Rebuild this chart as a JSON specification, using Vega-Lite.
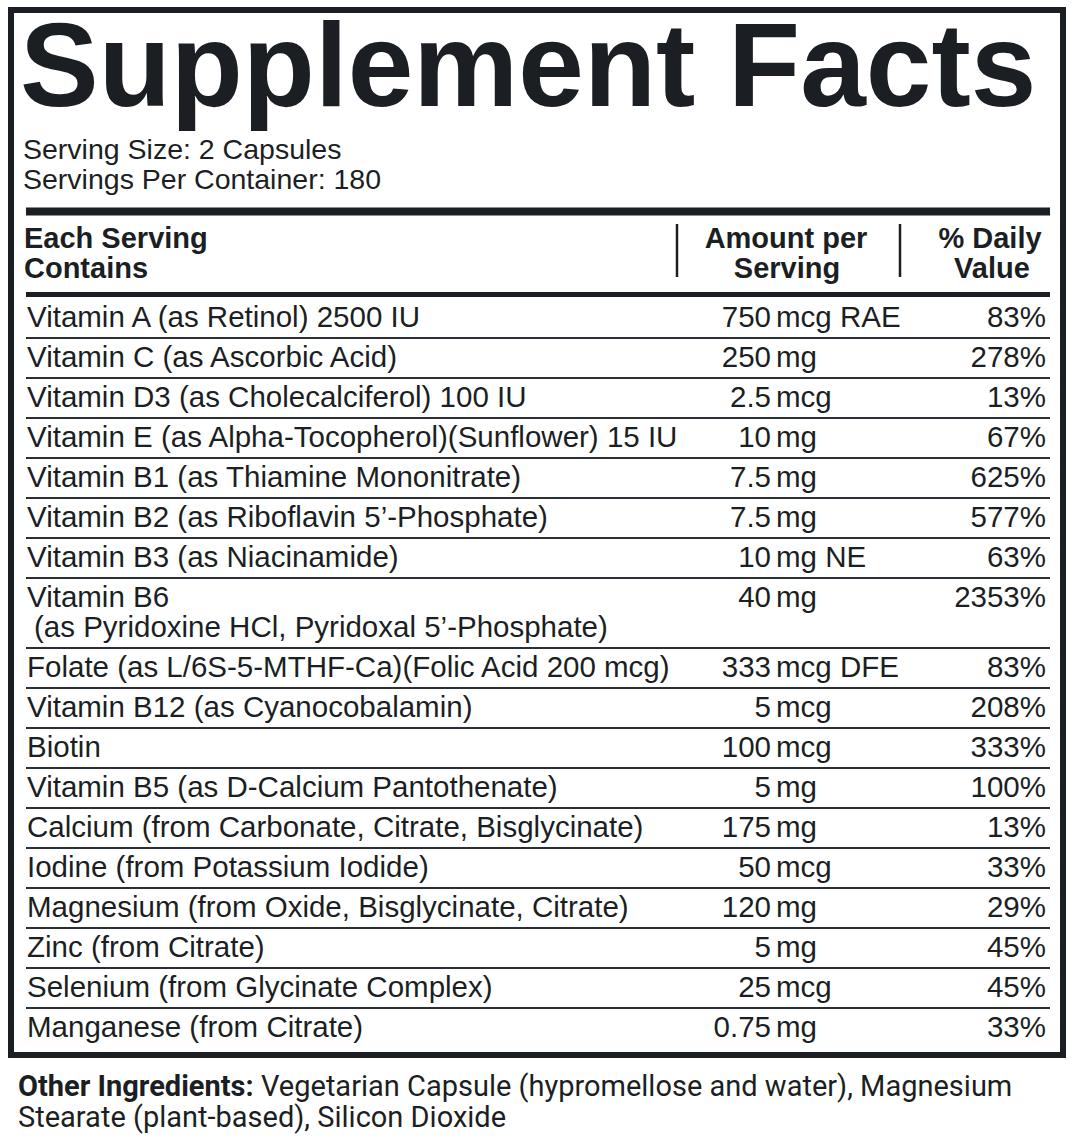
{
  "$schema": "https://vega.github.io/schema/vega-lite/v6.json",
  "width": 1074,
  "height": 1142,
  "autosize": {"type": "fit", "contains": "padding"},
  "padding": 0,
  "background": "white",
  "config": {
    "view": {"stroke": null},
    "text": {"font": "Liberation Sans", "color": "#1b1f24", "fontSize": 29.5}
  },
  "datasets": {
    "facts": [
      {
        "title": "Supplement Facts",
        "serving_size": "Serving Size: 2 Capsules",
        "servings": "Servings Per Container: 180",
        "head_nutrient_1": "Each Serving",
        "head_nutrient_2": "Contains",
        "head_amount_1": "Amount per",
        "head_amount_2": "Serving",
        "head_dv_1": "% Daily",
        "head_dv_2": "Value",
        "other_label": "Other Ingredients:",
        "other_1": "Vegetarian Capsule (hypromellose and water), Magnesium",
        "other_2": "Stearate (plant-based), Silicon Dioxide"
      }
    ],
    "nutrients": [
      {"id": 1, "nutrient": "Vitamin A (as Retinol) 2500 IU", "detail": null, "amount": "750", "unit": "mcg RAE", "dv": "83%"},
      {"id": 2, "nutrient": "Vitamin C (as Ascorbic Acid)", "detail": null, "amount": "250", "unit": "mg", "dv": "278%"},
      {"id": 3, "nutrient": "Vitamin D3 (as Cholecalciferol) 100 IU", "detail": null, "amount": "2.5", "unit": "mcg", "dv": "13%"},
      {"id": 4, "nutrient": "Vitamin E (as Alpha-Tocopherol)(Sunflower) 15 IU", "detail": null, "amount": "10", "unit": "mg", "dv": "67%"},
      {"id": 5, "nutrient": "Vitamin B1 (as Thiamine Mononitrate)", "detail": null, "amount": "7.5", "unit": "mg", "dv": "625%"},
      {"id": 6, "nutrient": "Vitamin B2 (as Riboflavin 5’-Phosphate)", "detail": null, "amount": "7.5", "unit": "mg", "dv": "577%"},
      {"id": 7, "nutrient": "Vitamin B3 (as Niacinamide)", "detail": null, "amount": "10", "unit": "mg NE", "dv": "63%"},
      {"id": 8, "nutrient": "Vitamin B6", "detail": "(as Pyridoxine HCl, Pyridoxal 5’-Phosphate)", "amount": "40", "unit": "mg", "dv": "2353%"},
      {"id": 9, "nutrient": "Folate (as L/6S-5-MTHF-Ca)(Folic Acid 200 mcg)", "detail": null, "amount": "333", "unit": "mcg DFE", "dv": "83%"},
      {"id": 10, "nutrient": "Vitamin B12 (as Cyanocobalamin)", "detail": null, "amount": "5", "unit": "mcg", "dv": "208%"},
      {"id": 11, "nutrient": "Biotin", "detail": null, "amount": "100", "unit": "mcg", "dv": "333%"},
      {"id": 12, "nutrient": "Vitamin B5 (as D-Calcium Pantothenate)", "detail": null, "amount": "5", "unit": "mg", "dv": "100%"},
      {"id": 13, "nutrient": "Calcium (from Carbonate, Citrate, Bisglycinate)", "detail": null, "amount": "175", "unit": "mg", "dv": "13%"},
      {"id": 14, "nutrient": "Iodine (from Potassium Iodide)", "detail": null, "amount": "50", "unit": "mcg", "dv": "33%"},
      {"id": 15, "nutrient": "Magnesium (from Oxide, Bisglycinate, Citrate)", "detail": null, "amount": "120", "unit": "mg", "dv": "29%"},
      {"id": 16, "nutrient": "Zinc (from Citrate)", "detail": null, "amount": "5", "unit": "mg", "dv": "45%"},
      {"id": 17, "nutrient": "Selenium (from Glycinate Complex)", "detail": null, "amount": "25", "unit": "mcg", "dv": "45%"},
      {"id": 18, "nutrient": "Manganese (from Citrate)", "detail": null, "amount": "0.75", "unit": "mg", "dv": "33%"}
    ]
  },
  "resolve": {"scale": {"y": "independent"}},
  "layer": [
    {
      "data": {"name": "facts"},
      "layer": [
        {
          "mark": {"type": "rect", "filled": false, "color": "#1b1f24", "strokeWidth": 6},
          "encoding": {
            "x": {"datum": 11, "type": "quantitative", "scale": {"domain": [0, 1074], "nice": false, "zero": false}, "axis": null},
            "x2": {"datum": 1063},
            "y": {"datum": 10, "type": "quantitative", "scale": {"domain": [0, 1142], "reverse": true, "nice": false, "zero": false}, "axis": null},
            "y2": {"datum": 1055}
          }
        },
        {
          "mark": {"type": "rule", "color": "#1b1f24", "strokeWidth": 8},
          "encoding": {
            "x": {"datum": 26, "type": "quantitative"},
            "x2": {"datum": 1050},
            "y": {"datum": 211.5, "type": "quantitative"}
          }
        },
        {
          "mark": {"type": "rule", "color": "#1b1f24", "strokeWidth": 5},
          "encoding": {
            "x": {"datum": 26, "type": "quantitative"},
            "x2": {"datum": 1050},
            "y": {"datum": 294.5, "type": "quantitative"}
          }
        },
        {
          "mark": {"type": "rule", "color": "#1b1f24", "strokeWidth": 2.5},
          "encoding": {
            "x": {"datum": 677, "type": "quantitative"},
            "y": {"datum": 224, "type": "quantitative"},
            "y2": {"datum": 277}
          }
        },
        {
          "mark": {"type": "rule", "color": "#1b1f24", "strokeWidth": 2.5},
          "encoding": {
            "x": {"datum": 900, "type": "quantitative"},
            "y": {"datum": 224, "type": "quantitative"},
            "y2": {"datum": 277}
          }
        },
        {
          "mark": {"type": "text", "fontWeight": "bold", "fontSize": 118, "align": "left", "baseline": "alphabetic"},
          "encoding": {
            "x": {"datum": 20, "type": "quantitative"},
            "y": {"datum": 106, "type": "quantitative"},
            "text": {"field": "title"}
          }
        },
        {
          "mark": {"type": "text", "fontSize": 28.5, "align": "left", "baseline": "alphabetic"},
          "encoding": {
            "x": {"datum": 23, "type": "quantitative"},
            "y": {"datum": 159, "type": "quantitative"},
            "text": {"field": "serving_size"}
          }
        },
        {
          "mark": {"type": "text", "fontSize": 28.5, "align": "left", "baseline": "alphabetic"},
          "encoding": {
            "x": {"datum": 23, "type": "quantitative"},
            "y": {"datum": 189, "type": "quantitative"},
            "text": {"field": "servings"}
          }
        },
        {
          "mark": {"type": "text", "fontWeight": "bold", "fontSize": 29, "align": "left", "baseline": "alphabetic"},
          "encoding": {
            "x": {"datum": 24, "type": "quantitative"},
            "y": {"datum": 248, "type": "quantitative"},
            "text": {"field": "head_nutrient_1"}
          }
        },
        {
          "mark": {"type": "text", "fontWeight": "bold", "fontSize": 29, "align": "left", "baseline": "alphabetic"},
          "encoding": {
            "x": {"datum": 24, "type": "quantitative"},
            "y": {"datum": 277.5, "type": "quantitative"},
            "text": {"field": "head_nutrient_2"}
          }
        },
        {
          "mark": {"type": "text", "fontWeight": "bold", "fontSize": 29, "align": "center", "baseline": "alphabetic"},
          "encoding": {
            "x": {"datum": 786, "type": "quantitative"},
            "y": {"datum": 248, "type": "quantitative"},
            "text": {"field": "head_amount_1"}
          }
        },
        {
          "mark": {"type": "text", "fontWeight": "bold", "fontSize": 29, "align": "center", "baseline": "alphabetic"},
          "encoding": {
            "x": {"datum": 787, "type": "quantitative"},
            "y": {"datum": 277.5, "type": "quantitative"},
            "text": {"field": "head_amount_2"}
          }
        },
        {
          "mark": {"type": "text", "fontWeight": "bold", "fontSize": 29, "align": "center", "baseline": "alphabetic"},
          "encoding": {
            "x": {"datum": 990, "type": "quantitative"},
            "y": {"datum": 248, "type": "quantitative"},
            "text": {"field": "head_dv_1"}
          }
        },
        {
          "mark": {"type": "text", "fontWeight": "bold", "fontSize": 29, "align": "center", "baseline": "alphabetic"},
          "encoding": {
            "x": {"datum": 992, "type": "quantitative"},
            "y": {"datum": 277.5, "type": "quantitative"},
            "text": {"field": "head_dv_2"}
          }
        },
        {
          "mark": {"type": "text", "font": "Roboto", "fontWeight": "bold", "fontSize": 29, "align": "left", "baseline": "alphabetic"},
          "encoding": {
            "x": {"datum": 18, "type": "quantitative"},
            "y": {"datum": 1096, "type": "quantitative"},
            "text": {"field": "other_label"}
          }
        },
        {
          "mark": {"type": "text", "font": "Roboto", "fontSize": 29, "align": "left", "baseline": "alphabetic"},
          "encoding": {
            "x": {"datum": 261, "type": "quantitative"},
            "y": {"datum": 1096, "type": "quantitative"},
            "text": {"field": "other_1"}
          }
        },
        {
          "mark": {"type": "text", "font": "Roboto", "fontSize": 29, "align": "left", "baseline": "alphabetic"},
          "encoding": {
            "x": {"datum": 18, "type": "quantitative"},
            "y": {"datum": 1127, "type": "quantitative"},
            "text": {"field": "other_2"}
          }
        }
      ]
    },
    {
      "data": {"name": "nutrients"},
      "transform": [{"filter": "datum.id <= 8"}],
      "encoding": {
        "y": {"field": "id", "type": "ordinal", "bandPosition": 0.5, "scale": {"type": "band", "range": [298, 618], "paddingInner": 0, "paddingOuter": 0}, "axis": null}
      },
      "layer": [
        {
          "transform": [{"filter": "datum.id > 1"}],
          "mark": {"type": "rule", "color": "#2a2f35", "strokeWidth": 2},
          "encoding": {
            "y": {"field": "id", "type": "ordinal", "bandPosition": 0},
            "x": {"datum": 26, "type": "quantitative"},
            "x2": {"datum": 1050}
          }
        },
        {
          "mark": {"type": "text", "align": "left", "baseline": "middle"},
          "encoding": {"x": {"datum": 27, "type": "quantitative"}, "text": {"field": "nutrient"}}
        },
        {
          "transform": [{"filter": "datum.detail != null"}],
          "mark": {"type": "text", "align": "left", "baseline": "middle", "dy": 30},
          "encoding": {"x": {"datum": 34, "type": "quantitative"}, "text": {"field": "detail"}}
        },
        {
          "mark": {"type": "text", "align": "right", "baseline": "middle"},
          "encoding": {"x": {"datum": 771, "type": "quantitative"}, "text": {"field": "amount"}}
        },
        {
          "mark": {"type": "text", "align": "left", "baseline": "middle"},
          "encoding": {"x": {"datum": 776, "type": "quantitative"}, "text": {"field": "unit"}}
        },
        {
          "mark": {"type": "text", "align": "right", "baseline": "middle"},
          "encoding": {"x": {"datum": 1046, "type": "quantitative"}, "text": {"field": "dv"}}
        }
      ]
    },
    {
      "data": {"name": "nutrients"},
      "transform": [{"filter": "datum.id > 8"}],
      "encoding": {
        "y": {"field": "id", "type": "ordinal", "bandPosition": 0.5, "scale": {"type": "band", "range": [648, 1048], "paddingInner": 0, "paddingOuter": 0}, "axis": null}
      },
      "layer": [
        {
          "mark": {"type": "rule", "color": "#2a2f35", "strokeWidth": 2},
          "encoding": {
            "y": {"field": "id", "type": "ordinal", "bandPosition": 0},
            "x": {"datum": 26, "type": "quantitative"},
            "x2": {"datum": 1050}
          }
        },
        {
          "mark": {"type": "text", "align": "left", "baseline": "middle"},
          "encoding": {"x": {"datum": 27, "type": "quantitative"}, "text": {"field": "nutrient"}}
        },
        {
          "mark": {"type": "text", "align": "right", "baseline": "middle"},
          "encoding": {"x": {"datum": 771, "type": "quantitative"}, "text": {"field": "amount"}}
        },
        {
          "mark": {"type": "text", "align": "left", "baseline": "middle"},
          "encoding": {"x": {"datum": 776, "type": "quantitative"}, "text": {"field": "unit"}}
        },
        {
          "mark": {"type": "text", "align": "right", "baseline": "middle"},
          "encoding": {"x": {"datum": 1046, "type": "quantitative"}, "text": {"field": "dv"}}
        }
      ]
    }
  ]
}
